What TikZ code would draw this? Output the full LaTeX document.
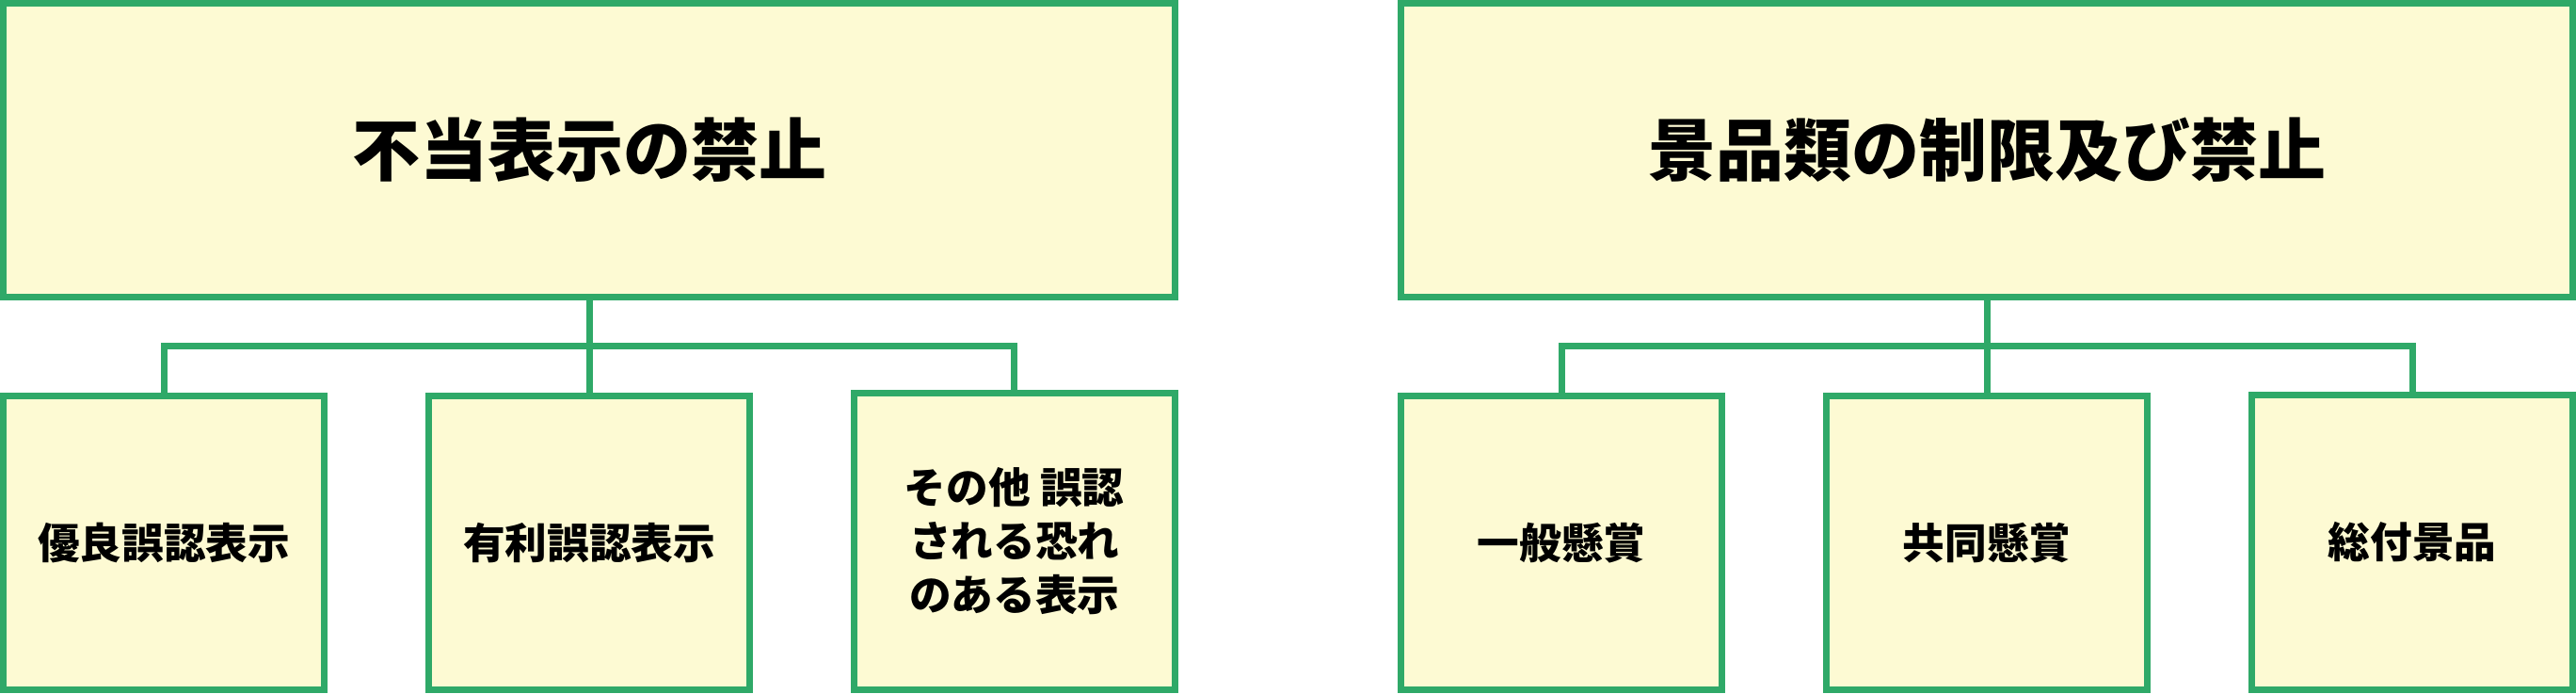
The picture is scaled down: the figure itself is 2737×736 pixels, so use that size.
\documentclass[tikz,border=0pt]{standalone}
\usepackage{fontspec}
\newfontfamily\jpfont{Noto Sans CJK JP}
\definecolor{boxgreen}{RGB}{47,169,104}
\definecolor{boxfill}{RGB}{253,250,211}
\begin{document}
\begin{tikzpicture}[x=0.3pt, y=-0.3pt,
  box/.style={rectangle, draw=boxgreen, fill=boxfill, line width=2.1pt, outer sep=0pt, inner sep=0pt},
  headbox/.style={box, minimum width=373.5pt, minimum height=93.6pt, font=\jpfont\bfseries\fontsize{21.6}{26}\selectfont},
  itembox/.style={box, minimum width=102.3pt, minimum height=93.6pt, align=center, font=\jpfont\bfseries\fontsize{13.4}{17.1}\selectfont},
  link/.style={draw=boxgreen, line width=2.1pt}]
  \useasboundingbox (0,0) rectangle (2737,736);

  % Nodes
  \node[headbox] (lt) at (626,159.5) {不当表示の禁止};
  \node[itembox] (l1) at (174,576.5) {優良誤認表示};
  \node[itembox] (l2) at (626,576.5) {有利誤認表示};
  \node[itembox, minimum height=94.35pt] (l3) at (1077.75,574.75) {その他 誤認\\される恐れ\\のある表示};

  \node[headbox] (rt) at (2111,159.5) {景品類の制限及び禁止};
  \node[itembox] (r1) at (1659,576.5) {一般懸賞};
  \node[itembox] (r2) at (2111,576.5) {共同懸賞};
  \node[itembox, minimum height=93.9pt] (r3) at (2563,576) {総付景品};

  % Edges
  \foreach \x/\y in {lt/l1, lt/l2, lt/l3, rt/r1, rt/r2, rt/r3}
    \draw[link] (\x.south) -- ++(0,52) -| (\y.north);
\end{tikzpicture}
\end{document}
